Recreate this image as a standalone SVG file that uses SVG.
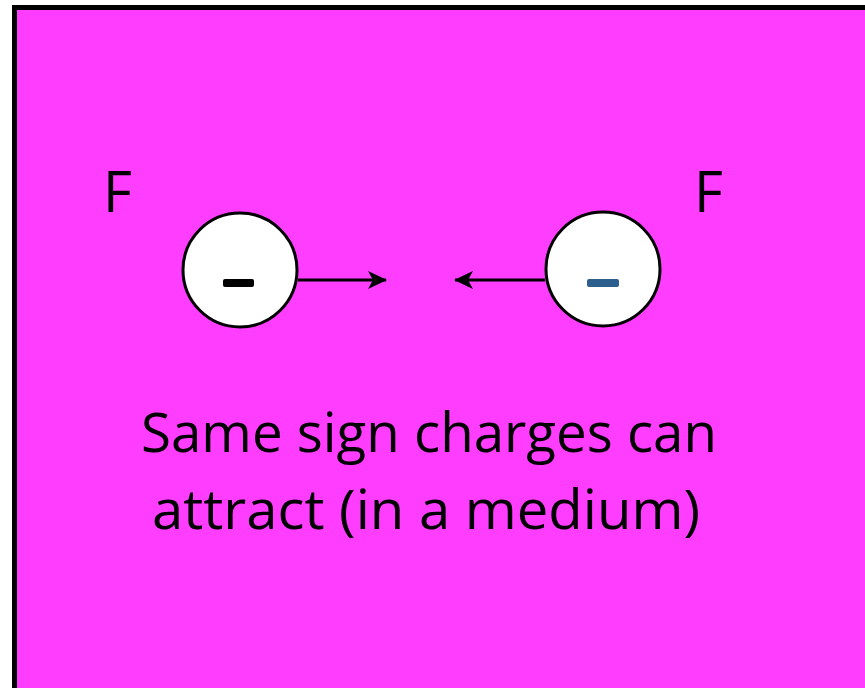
<svg xmlns="http://www.w3.org/2000/svg" width="865" height="688" viewBox="0 0 865 688">
<style>
.lbl{font-family:"Open Sans","Liberation Sans",sans-serif;fill:#000}
.chg{fill:#fff;stroke:#000;stroke-width:3}
.con{stroke:#000;stroke-width:3;fill:none}
</style>
<defs>
<marker id="ah" viewBox="0 0 20 20" refX="18" refY="10" markerWidth="20" markerHeight="20" markerUnits="userSpaceOnUse" orient="auto">
<path d="M0,1 L19,10 L0,19 L5,10 Z" fill="#000"/>
</marker>
</defs>
<rect x="0" y="0" width="865" height="688" fill="#fff"/>
<rect x="14.5" y="7.5" width="870" height="700" fill="#ff3dff" stroke="#000" stroke-width="5"/>
<g id="label-F-left"><text class="lbl" x="103" y="212" font-size="56">F</text></g>
<g id="label-F-right"><text class="lbl" x="694" y="212" font-size="56">F</text></g>
<g id="connectors">
<line class="con" x1="298" y1="280" x2="386" y2="280" marker-end="url(#ah)"/>
<line class="con" x1="545" y1="280" x2="455" y2="280" marker-end="url(#ah)"/>
</g>
<g id="charge-left">
<circle class="chg" cx="240" cy="270" r="57"/>
<rect x="223" y="279" width="31" height="8" rx="2" fill="#000"/>
</g>
<g id="charge-right">
<circle class="chg" cx="603" cy="269" r="57"/>
<rect x="587" y="279" width="32" height="8" rx="2" fill="#2c5f8e"/>
</g>
<g id="caption">
<text class="lbl" x="429" y="452" font-size="54" text-anchor="middle" textLength="576" lengthAdjust="spacingAndGlyphs">Same sign charges can</text>
<text class="lbl" x="426" y="529" font-size="54" text-anchor="middle" textLength="548" lengthAdjust="spacingAndGlyphs">attract (in a medium)</text>
</g>
</svg>
